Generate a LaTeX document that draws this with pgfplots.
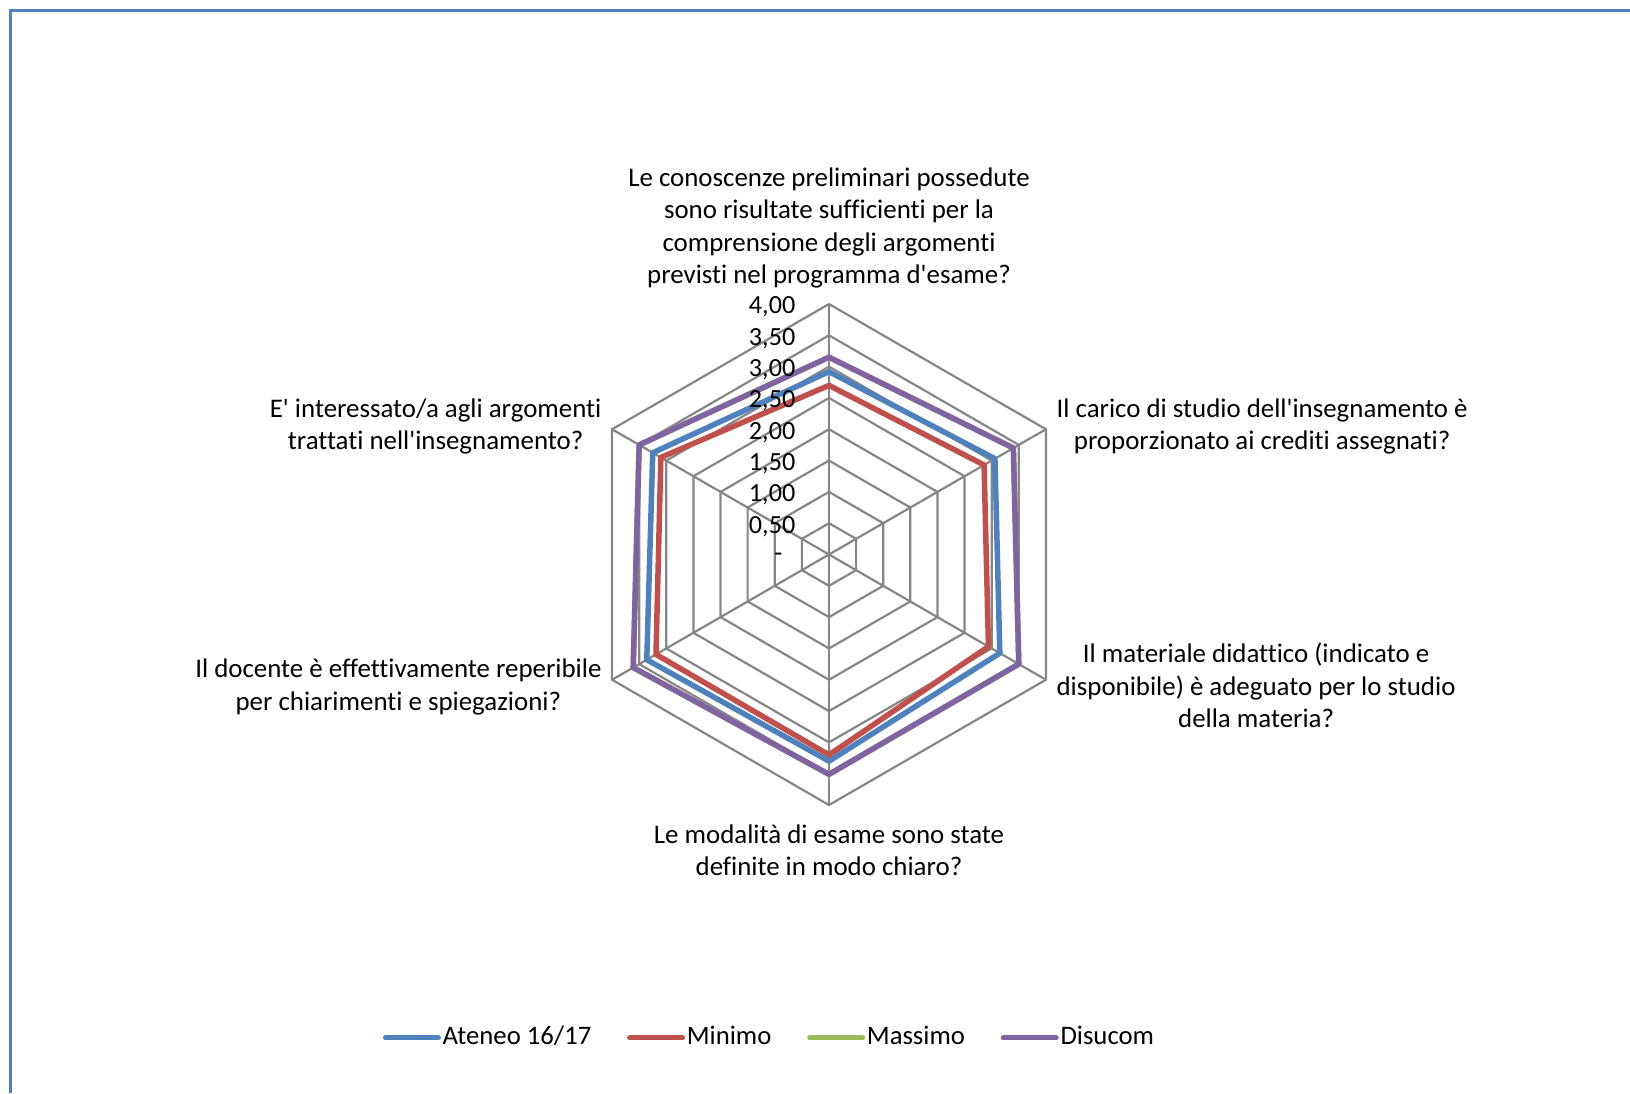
\documentclass[border=0pt]{standalone}
\usepackage{fontspec}
\setmainfont{Carlito}[Ligatures=CommonOff]
\usepackage{pgfplots}
\pgfplotsset{compat=1.18}
\usepgfplotslibrary{polar}
\definecolor{ateneo}{HTML}{4F81BD}
\definecolor{minimo}{HTML}{C0504D}
\definecolor{massimo}{HTML}{9BBB59}
\definecolor{disucom}{HTML}{8064A2}
\definecolor{gridgray}{HTML}{868686}
\definecolor{framecol}{HTML}{4F81BD}
\newcommand{\ap}{\textquotesingle}
\begin{document}
\begin{tikzpicture}
\path[use as bounding box] (0,0) rectangle (16.3cm,10.93cm);
\draw[framecol, line width=0.3mm] (0.105cm,0) -- (0.105cm,10.825cm) -- (16.3cm,10.825cm);
\begin{polaraxis}[
  at={(8.29cm,5.385cm)}, anchor=center,
  scale only axis, width=5.01cm, height=5.01cm,
  ymin=0, ymax=4, xmin=0, xmax=360,
  hide axis,
  clip=false,
  font=\fontsize{7.65}{9.25}\selectfont,
  legend columns=4,
  legend style={at={(0.381,-0.465)}, anchor=center, draw=none, fill=none,
    font=\fontsize{7.6}{9.25}\selectfont,
    nodes={inner xsep=0.5pt},
    /tikz/every even column/.append style={column sep=3.4mm}, inner sep=0pt},
  legend image code/.code={\draw[#1, line width=0.5mm, line cap=round] (0cm,0cm) -- (5.3mm,0cm);},
]
\pgfplotsinvokeforeach{0.5,1,1.5,2,2.5,3,3.5,4}{
  \addplot[gridgray, line width=0.22mm, forget plot] coordinates {(90,#1)(30,#1)(330,#1)(270,#1)(210,#1)(150,#1)(90,#1)};
}
\pgfplotsinvokeforeach{90,30,330,270,210,150}{
  \addplot[gridgray, line width=0.22mm, forget plot] coordinates {(#1,0)(#1,4)};
}
\addplot[ateneo, line width=0.55mm, line join=round, line cap=round] coordinates {(90,2.92)(30,3.06)(330,3.15)(270,3.30)(210,3.36)(150,3.25)(90,2.92)};
\addlegendentry{Ateneo 16/17}
\addplot[minimo, line width=0.55mm, line join=round, line cap=round] coordinates {(90,2.70)(30,2.86)(330,2.94)(270,3.20)(210,3.19)(150,3.10)(90,2.70)};
\addlegendentry{Minimo}
\addplot[massimo, line width=0.55mm, line join=round, line cap=round] coordinates {(90,3.15)(30,3.40)(330,3.50)(270,3.51)(210,3.61)(150,3.50)(90,3.15)};
\addlegendentry{Massimo}
\addplot[disucom, line width=0.55mm, line join=round, line cap=round] coordinates {(90,3.15)(30,3.40)(330,3.50)(270,3.51)(210,3.61)(150,3.50)(90,3.15)};
\addlegendentry{Disucom}

\begin{scope}[every node/.append style={font=\fontsize{7.45}{9.25}\selectfont}]
\node[anchor=east, inner sep=0pt, xshift=-3.3mm, yshift=-0.3mm] at (axis cs:90,0.5) {0,50};
\node[anchor=east, inner sep=0pt, xshift=-3.3mm, yshift=-0.3mm] at (axis cs:90,1) {1,00};
\node[anchor=east, inner sep=0pt, xshift=-3.3mm, yshift=-0.3mm] at (axis cs:90,1.5) {1,50};
\node[anchor=east, inner sep=0pt, xshift=-3.3mm, yshift=-0.3mm] at (axis cs:90,2) {2,00};
\node[anchor=east, inner sep=0pt, xshift=-3.3mm, yshift=-0.3mm] at (axis cs:90,2.5) {2,50};
\node[anchor=east, inner sep=0pt, xshift=-3.3mm, yshift=-0.3mm] at (axis cs:90,3) {3,00};
\node[anchor=east, inner sep=0pt, xshift=-3.3mm, yshift=-0.3mm] at (axis cs:90,3.5) {3,50};
\node[anchor=east, inner sep=0pt, xshift=-3.3mm, yshift=-0.3mm] at (axis cs:90,4) {4,00};
\node[anchor=east, inner sep=0pt, xshift=-4.6mm, yshift=-0.3mm] at (axis cs:90,0) {-};
\end{scope}

\node[anchor=south, align=center, inner sep=0pt, yshift=1.5mm] at (axis cs:90,4) {Le conoscenze preliminari possedute\\sono risultate sufficienti per la\\comprensione degli argomenti\\previsti nel programma d\ap esame?};
\node[anchor=west, align=center, inner sep=0pt, xshift=1mm, yshift=0.3mm] at (axis cs:30,4) {Il carico di studio dell\ap insegnamento è\\proporzionato ai crediti assegnati?};
\node[anchor=west, align=center, inner sep=0pt, xshift=1mm, yshift=-0.6mm] at (axis cs:330,4) {Il materiale didattico (indicato e\\disponibile) è adeguato per lo studio\\della materia?};
\node[anchor=north, align=center, inner sep=0pt, yshift=-1.9mm] at (axis cs:270,4) {Le modalità di esame sono state\\definite in modo chiaro?};
\node[anchor=east, align=center, inner sep=0pt, xshift=-1mm, yshift=-0.7mm] at (axis cs:210,4) {Il docente è effettivamente reperibile\\per chiarimenti e spiegazioni?};
\node[anchor=east, align=center, inner sep=0pt, xshift=-1mm, yshift=0.3mm] at (axis cs:150,4) {E\ap{} interessato/a agli argomenti\\trattati nell\ap insegnamento?};
\end{polaraxis}
\end{tikzpicture}
\end{document}
